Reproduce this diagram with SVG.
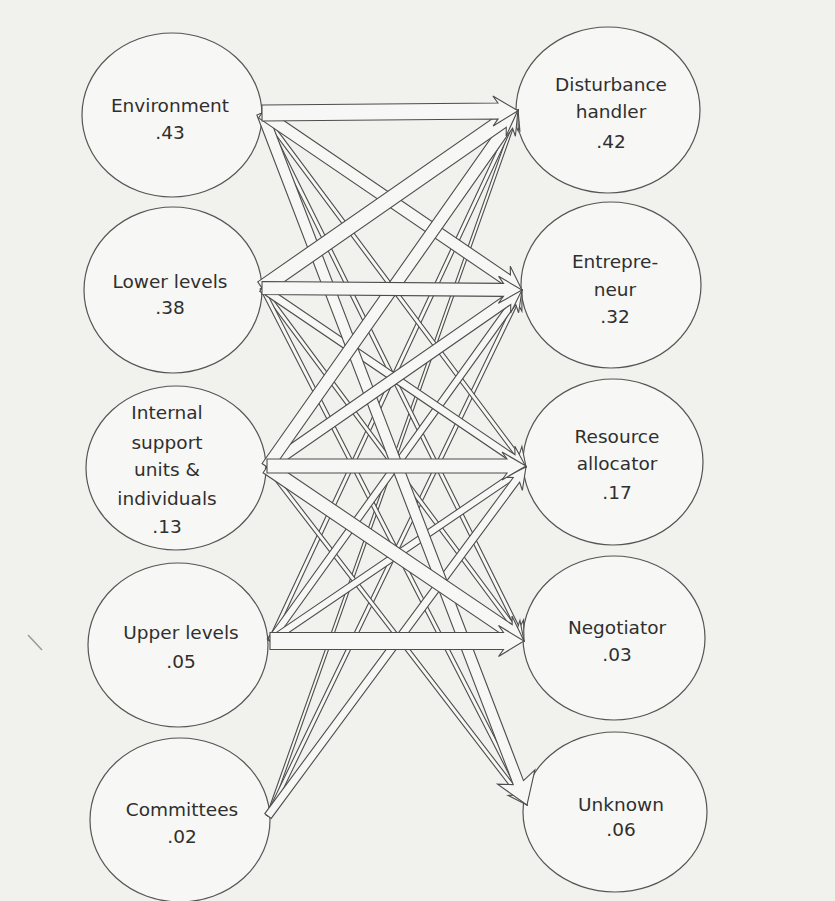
<svg xmlns="http://www.w3.org/2000/svg" width="835" height="901" viewBox="0 0 835 901">
  <style>
    .page { fill: #f1f1ee; }
    .node ellipse { fill: #f7f7f5; stroke: #555; stroke-width: 1.2; }
    .node text { font-family: "DejaVu Sans", Verdana, sans-serif; font-size: 18.5px; fill: #2f2f2f; text-anchor: middle; }
    .band { fill: #f7f7f5; stroke: #4d4d4d; stroke-width: 1.1; stroke-linejoin: miter; }
  </style>

  <!-- paper -->
  <rect class="page" x="0" y="0" width="835" height="901"/>
  <line x1="28" y1="635" x2="42" y2="650" stroke="#9a9a9a" stroke-width="1.5"/>

  <!-- sources -->
  <g id="environment" class="node">
    <ellipse cx="172" cy="115" rx="90" ry="82"/>
    <text x="170" y="112">Environment</text>
    <text x="170" y="139">.43</text>
  </g>
  <g id="lower-levels" class="node">
    <ellipse cx="173" cy="290" rx="89" ry="83"/>
    <text x="170" y="288">Lower levels</text>
    <text x="170" y="314">.38</text>
  </g>
  <g id="internal-support" class="node">
    <ellipse cx="176" cy="468" rx="90" ry="82"/>
    <text x="167" y="419">Internal</text>
    <text x="167" y="449">support</text>
    <text x="167" y="476">units &amp;</text>
    <text x="167" y="505">individuals</text>
    <text x="167" y="533">.13</text>
  </g>
  <g id="upper-levels" class="node">
    <ellipse cx="178" cy="645" rx="90" ry="82"/>
    <text x="181" y="639">Upper levels</text>
    <text x="181" y="668">.05</text>
  </g>
  <g id="committees" class="node">
    <ellipse cx="180" cy="820" rx="90" ry="82"/>
    <text x="182" y="816">Committees</text>
    <text x="182" y="843">.02</text>
  </g>

  <!-- roles -->
  <g id="disturbance-handler" class="node">
    <ellipse cx="608" cy="110" rx="92" ry="83"/>
    <text x="611" y="91">Disturbance</text>
    <text x="611" y="118">handler</text>
    <text x="611" y="148">.42</text>
  </g>
  <g id="entrepreneur" class="node">
    <ellipse cx="611" cy="285" rx="90" ry="83"/>
    <text x="615" y="268">Entrepre-</text>
    <text x="615" y="296">neur</text>
    <text x="615" y="323">.32</text>
  </g>
  <g id="resource-allocator" class="node">
    <ellipse cx="613" cy="462" rx="90" ry="83"/>
    <text x="617" y="443">Resource</text>
    <text x="617" y="470">allocator</text>
    <text x="617" y="499">.17</text>
  </g>
  <g id="negotiator" class="node">
    <ellipse cx="614" cy="638" rx="91" ry="82"/>
    <text x="617" y="634">Negotiator</text>
    <text x="617" y="661">.03</text>
  </g>
  <g id="unknown" class="node">
    <ellipse cx="615" cy="812" rx="92" ry="80"/>
    <text x="621" y="811">Unknown</text>
    <text x="621" y="836">.06</text>
  </g>

  <!-- flow arrows: hollow bands, drawn thin first so wider ones lie on top -->
  <g id="connectors">
    <!-- committees -> disturbance handler -->
    <path class="band" transform="translate(268 816) rotate(-70.50)" d="M0,-1.5 H735.5 L730.5,-8.5 L749,0 L730.5,8.5 L735.5,1.5 H0 Z"/>
    <!-- committees -> entrepreneur -->
    <path class="band" transform="translate(268 816) rotate(-64.22)" d="M0,-2 H570.1 L565.1,-9 L584.1,0 L565.1,9 L570.1,2 H0 Z"/>
    <!-- upper levels -> disturbance handler -->
    <path class="band" transform="translate(270 641) rotate(-64.96)" d="M0,-2 H572.1 L567.1,-9 L586.1,0 L567.1,9 L572.1,2 H0 Z"/>
    <!-- environment -> resource allocator -->
    <path class="band" transform="translate(262 113) rotate(53.28)" d="M0,-2 H427.6 L422.6,-9 L441.6,0 L422.6,9 L427.6,2 H0 Z"/>
    <!-- environment -> negotiator -->
    <path class="band" transform="translate(262 113) rotate(63.61)" d="M0,-2 H575.4 L570.4,-9 L589.4,0 L570.4,9 L575.4,2 H0 Z"/>
    <!-- lower levels -> negotiator -->
    <path class="band" transform="translate(262 288) rotate(53.41)" d="M0,-2 H425.6 L420.6,-9 L439.6,0 L420.6,9 L425.6,2 H0 Z"/>
    <!-- lower levels -> unknown -->
    <path class="band" transform="translate(262 288) rotate(62.86)" d="M0,-2 H567 L562,-9 L581,0 L562,9 L567,2 H0 Z"/>
    <!-- internal support -> unknown -->
    <path class="band" transform="translate(267 467) rotate(52.43)" d="M0,-2 H412.4 L407.4,-9 L426.4,0 L407.4,9 L412.4,2 H0 Z"/>
    <!-- upper levels -> entrepreneur -->
    <path class="band" transform="translate(270 641) rotate(-54.32)" d="M0,-3.5 H416.6 L411.6,-10.5 L432.1,0 L411.6,10.5 L416.6,3.5 H0 Z"/>
    <!-- upper levels -> resource allocator -->
    <path class="band" transform="translate(270 641) rotate(-34.20)" d="M0,-3.5 H294 L289,-10.5 L309.5,0 L289,10.5 L294,3.5 H0 Z"/>
    <!-- committees -> resource allocator -->
    <path class="band" transform="translate(268 816) rotate(-53.53)" d="M0,-4 H418 L413,-11 L434,0 L413,11 L418,4 H0 Z"/>
    <!-- lower levels -> resource allocator -->
    <path class="band" transform="translate(262 288) rotate(34.14)" d="M0,-4 H303 L298,-11 L319,0 L298,11 L303,4 H0 Z"/>
    <!-- environment -> unknown (wide head) -->
    <path class="band" transform="translate(262 113) rotate(69.05)" d="M0,-5.5 H717 L711,-20 L741,0 L711,20 L717,5.5 H0 Z"/>
    <!-- internal support -> entrepreneur -->
    <path class="band" transform="translate(267 467) rotate(-34.77)" d="M0,-5.5 H292.9 L287.9,-12.5 L310.4,0 L287.9,12.5 L292.9,5.5 H0 Z"/>
    <!-- environment -> entrepreneur -->
    <path class="band" transform="translate(262 113) rotate(34.25)" d="M0,-6 H296.5 L291.5,-13 L314.5,0 L291.5,13 L296.5,6 H0 Z"/>
    <!-- internal support -> disturbance handler -->
    <path class="band" transform="translate(267 467) rotate(-54.89)" d="M0,-6 H418.4 L413.4,-13 L436.4,0 L413.4,13 L418.4,6 H0 Z"/>
    <!-- internal support -> negotiator -->
    <path class="band" transform="translate(267 467) rotate(34.10)" d="M0,-7 H291.4 L286.4,-14 L310.4,0 L286.4,14 L291.4,7 H0 Z"/>
    <!-- lower levels -> disturbance handler -->
    <path class="band" transform="translate(262 288) rotate(-34.81)" d="M0,-7.5 H292.3 L287.3,-14.5 L311.8,0 L287.3,14.5 L292.3,7.5 H0 Z"/>
    <!-- straight across -->
    <path class="band" transform="translate(262 113) rotate(-0.5)" d="M0,-8 H236 L231,-15 L256,0 L231,15 L236,8 H0 Z"/>
    <path class="band" transform="translate(262 288) rotate(0.44)" d="M0,-6.5 H241.5 L236.5,-13.5 L260,0 L236.5,13.5 L241.5,6.5 H0 Z"/>
    <path class="band" transform="translate(267 466) rotate(0)" d="M0,-7 H240 L235,-14 L259,0 L235,14 L240,7 H0 Z"/>
    <path class="band" transform="translate(270 641) rotate(0)" d="M0,-8.5 H233.5 L228.5,-15.5 L254,0 L228.5,15.5 L233.5,8.5 H0 Z"/>
  </g>
</svg>
